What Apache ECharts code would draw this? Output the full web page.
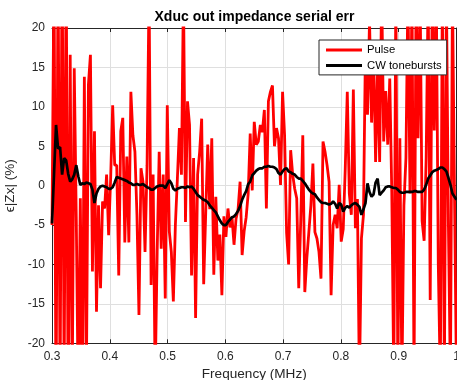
<!DOCTYPE html>
<html>
<head>
<meta charset="utf-8">
<script src="https://cdn.jsdelivr.net/npm/echarts@6/dist/echarts.min.js"></script>
<style>
html,body{margin:0;padding:0;background:#fff;}
#chart{width:457px;height:380px;}
</style>
</head>
<body>
<div id="chart"></div>
<script>
// Frequency sampling grid (MHz)
const freqStart = 0.3;
const freqStep = 0.0035;

// Pulse series: serial impedance error (%)
const pulseErr = [
  -5, 28, -30, 30, -28, 32, -26, 30, -30, 16.6,
  -26, 14.9, -4, -28, -1.6, -28, 13.8, -25, 12.8, 16.6,
  -10.9, 6.9, -16, -2.5, -13, -2, -2.9, 1.4, -6.3, 0.9,
  10.2, 2.6, 2.6, -11.4, 6.9, 8.6, -7.2, 3.7, -7.2, 11.9,
  6.4, 4.3, -3.7, -16.4, 2.2, 0.5, -8.4, 2.6, 25, -12.6,
  1.4, -25, -8.4, 4.3, -8, 1.4, -14.3, 10.2, -5.8, -8.4,
  -14.7, -5, 0.9, 7.3, 1.4, 25, -4.6, 10.7, 7.7, -11.4,
  3.5, -16.8, 1.4, 4.3, 8.5, -12.5, -3.5, 5.2, -3, 6,
  -11.3, -1.4, -9.5, -6.2, -13.9, -3.9, -6.5, -2.9, -5.3, -4,
  -7.5, -4.2, -3, 0.5, -8.8, -5.8, -4, -1, 6.6, -0.6,
  8.1, 5.2, 5.6, 7.7, 6.8, 9.6, -2.9, 10.7, 11.9, 12.7,
  5, 7.3, 6, 0.1, 11.9, 6.4, -6, -10, 4.5, 1.4,
  -0.4, -1.6, -13, -4.3, 6.4, -13.5, -9.2, -5.9, -2.5, 2.8,
  -5.9, -6.7, -8.4, -11.8, 5.6, 4.3, 2.6, 0.5, -13.9, -5,
  -3.7, -5.4, 0.1, -7.1, -5.5, 2.2, 11.9, -1, -3.7, 12.2,
  -5.4, -1.7, -25, -6.7, -3.7, 18, 9, 21, 8, 17.4,
  3, 15, 3, 25, 5.6, 12, 5.2, 13.6, -0.8, -25,
  25, -25, 6, -25, -2.5, 3.5, 25, -1, 25, -25,
  25, 6, 25, -4.5, -7, 3.5, 25, -14.5, 25, 7,
  25, -10, -25, 25, -25, 25, -5, -25, 25, -0.8,
  -25
];

// CW toneburst series: serial impedance error (%)
const cwErr = [
  -4.8, 1.5, 7.7, 4.7, 4.9, 1.4, 3.5, 3.2, 1.5, 0.5,
  0.8, 1.4, 2.6, 1.2, 0.1, 0.3, 0.2, 0.4, 0.3, 0.2,
  -0.5, -2.2, -1, -0.4, -0.1, 0, -0.1, -0.2, -0.4, -0.4,
  -0.2, 0.4, 1.1, 1, 0.9, 0.8, 0.7, 0.6, 0.4, 0.3,
  0.1, 0.1, 0.2, 0.1, 0.1, 0.2, 0, -0.2, -0.3, -0.5,
  -0.5, -0.3, -0.1, 0, 0, 0, -0.3, 0.2, 0.7, 0.3,
  -0.4, -0.6, -0.4, -0.3, -0.2, -0.2, -0.3, -0.1, -0.2, -0.1,
  -0.4, -0.8, -1.2, -1.4, -1.6, -1.8, -1.9, -2.1, -2.5, -2.8,
  -3.1, -3.4, -3.9, -4.4, -4.8, -5, -5, -4.6, -4.3, -4,
  -3.9, -3.6, -3.2, -2.6, -1.8, -1.2, -0.7, 0.2, 0.5, 1.3,
  1.6, 1.9, 2.1, 2.2, 2.2, 2.4, 2.4, 2.5, 2.4, 2.4,
  2.3, 2.1, 1.6, 1.4, 1.8, 2.1, 2.2, 1.8, 1.7, 1.5,
  1.4, 1.1, 0.9, 0.9, 0.6, 0.3, -0.1, -0.5, -0.8, -1.0,
  -1.1, -1.5, -1.8, -2.1, -2.2, -2.2, -2.3, -2.4, -2.3, -2.0,
  -2.3, -2.9, -2.2, -2.4, -3.3, -2.8, -2.6, -2.8, -2.5, -2.3,
  -2.2, -2.4, -2.7, -3.7, -3.0, -2.2, 0.3, -0.8, -1.4, -1.1,
  0.4, 0.9, -1.2, -0.9, -0.6, -0.2, -0.1, -0.1, -0.2, -0.3,
  -0.3, -0.5, -0.8, -0.9, -0.9, -0.8, -0.8, -0.8, -0.8, -0.7,
  -0.7, -0.8, -0.8, -0.8, -0.5, 0.1, 0.9, 1.3, 1.7, 1.9,
  2.0, 2.1, 2.3, 2.3, 2.1, 1.8, 1.0, 0.1, -1.0, -1.4,
  -1.8
];

const freqMHz = pulseErr.map((_, i) => +(freqStart + i * freqStep).toFixed(4));

const xTicks = [0.3, 0.4, 0.5, 0.6, 0.7, 0.8, 0.9, 1.0];
const yTicks = [-20, -15, -10, -5, 0, 5, 10, 15, 20];

const seriesNames = ['Pulse', 'CW tonebursts'];
const titleText = 'Xduc out impedance serial err';
const xLabel = 'Frequency (MHz)';
const yLabel = 'ϵ|Zx| (%)';

const FONT = 'Liberation Sans, Arial, Helvetica, sans-serif';
const AX = '#262626';
const GRIDC = '#dfdfdf';

const chart = echarts.init(document.getElementById('chart'), null, {renderer: 'canvas'});

const xMin = xTicks[0], xMax = xTicks[xTicks.length - 1];
const yMin = yTicks[0], yMax = yTicks[yTicks.length - 1];

function baseX(extra) {
  return Object.assign({
    type: 'value', min: xMin, max: xMax, interval: 0.1,
    axisLine: {show: true, onZero: false, lineStyle: {color: AX, width: 1}},
    axisTick: {show: true, inside: true, length: 4, lineStyle: {color: AX}},
    splitLine: {show: false},
  }, extra);
}
function baseY(extra) {
  return Object.assign({
    type: 'value', min: yMin, max: yMax, interval: 5,
    axisLine: {show: true, onZero: false, lineStyle: {color: AX, width: 1}},
    axisTick: {show: true, inside: true, length: 4, lineStyle: {color: AX}},
    splitLine: {show: false},
  }, extra);
}

chart.setOption({
  backgroundColor: '#ffffff',
  animation: false,
  title: {
    text: titleText,
    left: 254.5, top: 10, padding: 0, textAlign: 'center',
    textStyle: {fontFamily: FONT, fontSize: 14, fontWeight: 'bold', color: '#000'}
  },
  legend: {
    data: seriesNames,
    orient: 'vertical',
    left: 319, top: 40,
    padding: [4.5, 5, 4, 7],
    itemGap: 4.4,
    itemWidth: 36, itemHeight: 3,
    icon: 'rect',
    backgroundColor: '#ffffff',
    borderColor: AX, borderWidth: 1, borderRadius: 0,
    textStyle: {fontFamily: FONT, fontSize: 11.3, color: '#000'},
    z: 10
  },
  grid: {left: 52, right: 0.5, top: 28, bottom: 36.7, containLabel: false, outerBoundsMode: 'none'},
  xAxis: [
    baseX({
      position: 'bottom',
      name: xLabel, nameLocation: 'middle', nameGap: 23,
      nameTextStyle: {fontFamily: FONT, fontSize: 13.6, color: AX},
      axisLabel: {show: true, margin: 7, color: AX, fontFamily: FONT, fontSize: 12,
        showMaxLabel: true, showMinLabel: true, hideOverlap: false,
        formatter: v => String(+v.toFixed(1))},
      splitLine: {show: true, lineStyle: {color: GRIDC, width: 1}}
    }),
    baseX({position: 'top', axisLabel: {show: false}})
  ],
  yAxis: [
    baseY({
      position: 'left',
      name: yLabel, nameLocation: 'middle', nameGap: 35,
      nameTextStyle: {fontFamily: FONT, fontSize: 13.6, color: AX},
      axisLabel: {show: true, margin: 7, color: AX, fontFamily: FONT, fontSize: 12},
      splitLine: {show: true, lineStyle: {color: GRIDC, width: 1}}
    }),
    baseY({position: 'right', axisLabel: {show: false}})
  ],
  series: [
    {
      name: seriesNames[0], type: 'line', xAxisIndex: 0, yAxisIndex: 0,
      data: freqMHz.map((f, i) => [f, pulseErr[i]]),
      symbol: 'none', clip: true,
      lineStyle: {color: '#ff0000', width: 2.8},
      itemStyle: {color: '#ff0000'},
      z: 2
    },
    {
      name: seriesNames[1], type: 'line', xAxisIndex: 0, yAxisIndex: 0,
      data: freqMHz.map((f, i) => [f, cwErr[i]]),
      symbol: 'none', clip: true,
      lineStyle: {color: '#000000', width: 2.7},
      itemStyle: {color: '#000000'},
      z: 3
    }
  ]
});
</script>
</body>
</html>
